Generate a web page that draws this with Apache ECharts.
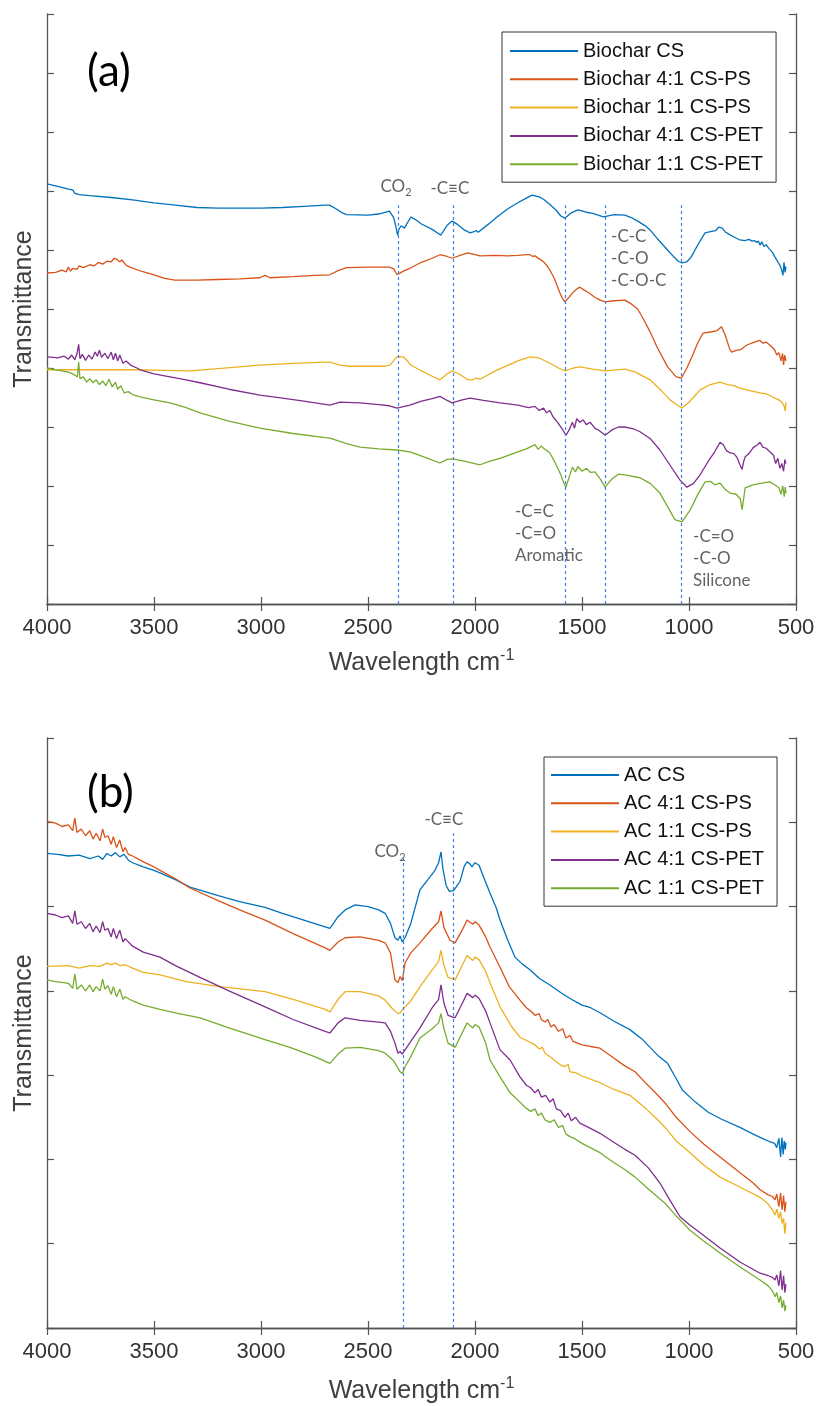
<!DOCTYPE html>
<html>
<head>
<meta charset="utf-8">
<script src="https://cdn.jsdelivr.net/npm/echarts@6/dist/echarts.min.js"></script>
<style>
  html, body { margin: 0; padding: 0; background: #fff; }
  #chart { width: 820px; height: 1406px; }
</style>
</head>
<body>
<div id="chart"></div>
<script>
// ---------- FTIR spectra: [wavenumber (cm-1), transmittance (a.u.)] ----------

// Panel (a): biochar samples
const biocharCS = [[4000,7.12],[3950,7.08],[3900,7.03],[3880,7.02],[3870,6.96],[3850,6.94],[3800,6.92],[3700,6.89],[3600,6.85],[3500,6.80],[3400,6.76],[3300,6.72],[3200,6.71],[3100,6.71],[3000,6.71],[2900,6.72],[2800,6.74],[2700,6.76],[2680,6.76],[2650,6.70],[2620,6.63],[2600,6.60],[2500,6.59],[2450,6.61],[2400,6.66],[2380,6.55],[2370,6.40],[2362,6.25],[2355,6.36],[2345,6.41],[2330,6.37],[2300,6.56],[2280,6.52],[2250,6.44],[2200,6.35],[2160,6.25],[2130,6.42],[2107,6.49],[2080,6.43],[2050,6.34],[2023,6.29],[2005,6.31],[1995,6.33],[1985,6.30],[1977,6.31],[1940,6.43],[1900,6.55],[1850,6.69],[1800,6.80],[1760,6.88],[1734,6.93],[1700,6.90],[1680,6.86],[1650,6.77],[1620,6.67],[1600,6.58],[1580,6.54],[1550,6.63],[1519,6.68],[1480,6.64],[1450,6.62],[1400,6.56],[1392,6.56],[1350,6.60],[1300,6.59],[1270,6.55],[1240,6.49],[1200,6.40],[1182,6.34],[1150,6.20],[1100,6.00],[1070,5.88],[1050,5.81],[1033,5.78],[1010,5.80],[990,5.88],[960,6.08],[940,6.20],[925,6.29],[900,6.31],[875,6.33],[860,6.39],[845,6.37],[832,6.31],[810,6.26],[790,6.22],[762,6.17],[740,6.16],[720,6.18],[705,6.15],[695,6.16],[685,6.13],[675,6.15],[668,6.08],[660,6.14],[650,6.06],[640,6.09],[625,6.02],[610,5.96],[598,5.88],[585,5.80],[575,5.74],[567,5.66],[561,5.57],[556,5.79],[551,5.62],[547,5.72]];

const biochar41PS = [[4000,5.61],[3960,5.62],[3930,5.66],[3910,5.63],[3900,5.71],[3890,5.64],[3880,5.69],[3860,5.67],[3850,5.73],[3830,5.70],[3800,5.75],[3780,5.73],[3760,5.79],[3740,5.76],[3720,5.81],[3700,5.80],[3685,5.86],[3673,5.84],[3660,5.80],[3650,5.83],[3630,5.74],[3612,5.71],[3560,5.64],[3500,5.58],[3450,5.52],[3402,5.49],[3300,5.49],[3200,5.50],[3100,5.51],[3005,5.53],[2981,5.57],[2958,5.53],[2850,5.55],[2750,5.57],[2678,5.58],[2640,5.65],[2600,5.70],[2500,5.71],[2400,5.71],[2380,5.68],[2364,5.58],[2345,5.62],[2330,5.65],[2304,5.69],[2257,5.78],[2200,5.86],[2164,5.92],[2155,5.95],[2130,5.89],[2107,5.86],[2070,5.91],[2033,5.95],[2000,5.92],[1977,5.90],[1900,5.91],[1850,5.90],[1800,5.91],[1760,5.92],[1743,5.92],[1730,5.89],[1720,5.90],[1700,5.85],[1680,5.80],[1665,5.74],[1650,5.66],[1630,5.52],[1603,5.27],[1590,5.17],[1580,5.12],[1560,5.20],[1540,5.29],[1520,5.35],[1510,5.37],[1490,5.32],[1470,5.28],[1440,5.20],[1415,5.15],[1392,5.12],[1350,5.14],[1300,5.15],[1276,5.10],[1240,5.00],[1210,4.81],[1180,4.60],[1150,4.36],[1100,4.02],[1060,3.85],[1035,3.83],[1010,4.00],[985,4.20],[960,4.42],[935,4.59],[900,4.61],[870,4.63],[848,4.70],[830,4.55],[810,4.32],[800,4.27],[780,4.30],[760,4.31],[730,4.39],[700,4.43],[670,4.47],[655,4.42],[640,4.44],[620,4.38],[600,4.31],[590,4.22],[580,4.26],[570,4.12],[563,4.25],[558,4.05],[553,4.22],[547,4.12]];

const biochar11PS = [[4000,3.97],[3800,3.97],[3600,3.97],[3450,3.96],[3330,3.95],[3200,3.99],[3005,4.05],[2850,4.08],[2700,4.10],[2678,4.10],[2630,4.05],[2584,4.03],[2420,4.03],[2397,4.05],[2375,4.15],[2364,4.19],[2336,4.19],[2320,4.14],[2300,4.05],[2250,3.95],[2200,3.86],[2164,3.80],[2130,3.90],[2107,3.95],[2070,3.89],[2033,3.80],[2010,3.80],[1995,3.83],[1977,3.81],[1900,3.96],[1800,4.12],[1743,4.19],[1700,4.17],[1650,4.08],[1610,4.00],[1580,3.95],[1540,4.00],[1510,4.02],[1450,3.98],[1392,3.95],[1300,3.98],[1250,3.93],[1182,3.80],[1130,3.62],[1089,3.46],[1050,3.36],[1033,3.32],[1000,3.42],[948,3.63],[900,3.72],[855,3.76],[820,3.72],[790,3.70],[762,3.66],[720,3.62],[668,3.58],[640,3.56],[620,3.53],[598,3.49],[580,3.46],[565,3.42],[555,3.35],[550,3.27],[547,3.42]];

const biochar41PET = [[4000,4.19],[3970,4.18],[3950,4.17],[3920,4.20],[3900,4.15],[3885,4.22],[3870,4.14],[3860,4.24],[3852,4.40],[3846,4.16],[3835,4.23],[3820,4.13],[3805,4.22],[3790,4.15],[3775,4.27],[3765,4.20],[3755,4.30],[3745,4.18],[3730,4.25],[3715,4.16],[3700,4.27],[3690,4.14],[3680,4.25],[3670,4.12],[3660,4.22],[3645,4.08],[3630,4.12],[3610,4.05],[3580,4.00],[3565,3.97],[3500,3.90],[3425,3.85],[3350,3.80],[3285,3.75],[3150,3.64],[3005,3.54],[2900,3.49],[2800,3.44],[2678,3.37],[2650,3.40],[2631,3.42],[2537,3.41],[2450,3.38],[2400,3.36],[2364,3.32],[2330,3.35],[2304,3.37],[2250,3.44],[2200,3.48],[2164,3.52],[2130,3.45],[2107,3.41],[2060,3.46],[2023,3.49],[1960,3.45],[1883,3.41],[1800,3.37],[1750,3.33],[1720,3.35],[1700,3.28],[1680,3.32],[1665,3.24],[1650,3.28],[1635,3.17],[1612,3.07],[1590,2.95],[1575,2.86],[1560,2.95],[1545,3.08],[1535,2.98],[1525,3.14],[1510,3.08],[1495,3.12],[1480,3.04],[1462,3.08],[1440,2.98],[1420,2.94],[1392,2.86],[1360,2.95],[1330,3.00],[1300,3.00],[1260,2.97],[1229,2.92],[1180,2.80],[1136,2.61],[1090,2.36],[1042,2.10],[1010,1.98],[980,2.04],[948,2.19],[910,2.42],[880,2.58],[855,2.74],[840,2.70],[825,2.60],[808,2.56],[790,2.55],[775,2.48],[762,2.36],[752,2.28],[744,2.42],[738,2.49],[720,2.55],[700,2.65],[680,2.70],[668,2.74],[655,2.66],[640,2.64],[622,2.58],[605,2.52],[595,2.38],[585,2.47],[575,2.30],[566,2.38],[558,2.25],[552,2.45],[547,2.38]];

const biochar11PET = [[4000,4.00],[3960,3.97],[3930,3.95],[3900,3.93],[3880,3.90],[3870,3.88],[3858,3.85],[3852,4.10],[3846,3.82],[3830,3.85],[3815,3.76],[3800,3.82],[3785,3.75],[3770,3.80],[3755,3.72],[3740,3.78],[3725,3.70],[3710,3.81],[3695,3.68],[3680,3.76],[3670,3.64],[3655,3.70],[3640,3.58],[3620,3.60],[3600,3.55],[3565,3.51],[3500,3.46],[3425,3.41],[3350,3.33],[3285,3.24],[3150,3.10],[3005,2.98],[2850,2.89],[2700,2.82],[2678,2.81],[2600,2.72],[2537,2.66],[2450,2.63],[2364,2.61],[2304,2.58],[2230,2.48],[2164,2.39],[2130,2.45],[2107,2.46],[2050,2.42],[1977,2.36],[1930,2.42],[1883,2.47],[1800,2.58],[1760,2.63],[1743,2.66],[1720,2.70],[1705,2.62],[1690,2.68],[1680,2.64],[1665,2.60],[1650,2.56],[1625,2.39],[1600,2.20],[1585,2.05],[1575,1.98],[1560,2.15],[1545,2.32],[1530,2.24],[1519,2.33],[1500,2.25],[1480,2.30],[1460,2.23],[1440,2.24],[1415,2.12],[1392,1.98],[1360,2.12],[1330,2.20],[1300,2.19],[1229,2.14],[1180,2.04],[1136,1.88],[1100,1.65],[1066,1.43],[1033,1.39],[995,1.59],[960,1.85],[925,2.07],[900,2.08],[880,2.02],[855,2.05],[830,1.94],[808,1.88],[780,1.86],[760,1.78],[752,1.60],[744,1.80],[738,1.97],[700,2.02],[660,2.05],[622,2.07],[600,2.02],[580,1.97],[570,1.86],[562,2.00],[555,1.82],[550,1.98],[547,1.88]];

// Panel (b): activated carbon samples
const acCS = [[4000,5.63],[3950,5.62],[3900,5.60],[3850,5.61],[3800,5.57],[3760,5.60],[3740,5.56],[3720,5.63],[3700,5.60],[3680,5.64],[3660,5.59],[3640,5.62],[3620,5.55],[3600,5.52],[3550,5.47],[3500,5.43],[3472,5.40],[3400,5.32],[3332,5.23],[3200,5.13],[3100,5.06],[2981,4.99],[2900,4.92],[2800,4.84],[2700,4.76],[2678,4.74],[2640,4.88],[2607,4.96],[2560,5.02],[2500,5.00],[2450,4.96],[2420,4.92],[2395,4.80],[2374,4.63],[2360,4.60],[2350,4.65],[2340,4.58],[2327,4.63],[2300,4.80],[2257,5.20],[2220,5.32],[2187,5.43],[2170,5.52],[2159,5.65],[2150,5.45],[2135,5.25],[2120,5.18],[2100,5.19],[2093,5.17],[2070,5.30],[2050,5.48],[2037,5.53],[2025,5.51],[2014,5.47],[2000,5.52],[1981,5.49],[1960,5.35],[1930,5.16],[1900,4.98],[1883,4.84],[1850,4.62],[1813,4.40],[1780,4.32],[1743,4.25],[1700,4.15],[1650,4.07],[1600,3.98],[1556,3.91],[1500,3.83],[1460,3.80],[1416,3.74],[1350,3.64],[1276,3.54],[1220,3.43],[1182,3.33],[1140,3.22],[1100,3.14],[1060,2.96],[1030,2.82],[970,2.68],[910,2.56],[850,2.48],[762,2.38],[700,2.30],[650,2.24],[622,2.21],[600,2.19],[590,2.14],[580,2.25],[572,2.03],[566,2.26],[560,2.06],[555,2.22],[550,2.12],[547,2.20]];

const ac41PS = [[4000,6.01],[3960,5.99],[3930,5.95],[3900,5.97],[3880,5.90],[3870,6.05],[3860,5.88],[3840,5.92],[3820,5.84],[3800,5.90],[3785,5.80],[3770,5.87],[3752,5.78],[3740,5.92],[3730,5.82],[3715,5.84],[3700,5.74],[3690,5.83],[3675,5.70],[3660,5.79],[3645,5.65],[3635,5.70],[3620,5.62],[3600,5.60],[3550,5.53],[3500,5.47],[3472,5.43],[3400,5.33],[3332,5.22],[3200,5.07],[3100,4.96],[2981,4.84],[2850,4.68],[2700,4.51],[2678,4.48],[2640,4.58],[2607,4.63],[2537,4.64],[2450,4.60],[2420,4.57],[2395,4.45],[2374,4.13],[2360,4.10],[2350,4.17],[2340,4.12],[2327,4.33],[2300,4.45],[2257,4.57],[2200,4.74],[2170,4.82],[2159,4.95],[2145,4.75],[2117,4.60],[2093,4.57],[2060,4.72],[2037,4.84],[2010,4.79],[2000,4.82],[1981,4.78],[1950,4.64],[1930,4.52],[1883,4.28],[1840,4.05],[1790,3.89],[1760,3.80],[1740,3.76],[1720,3.71],[1700,3.73],[1690,3.66],[1673,3.63],[1660,3.66],[1645,3.57],[1630,3.60],[1610,3.52],[1590,3.55],[1575,3.44],[1556,3.47],[1542,3.40],[1500,3.36],[1460,3.34],[1416,3.32],[1350,3.20],[1300,3.11],[1252,3.04],[1200,2.90],[1160,2.80],[1112,2.67],[1060,2.50],[995,2.33],[930,2.18],[855,2.03],[760,1.84],[700,1.72],[668,1.64],[630,1.58],[610,1.56],[598,1.52],[590,1.59],[580,1.44],[572,1.60],[565,1.40],[558,1.57],[552,1.38],[547,1.50]];

const ac11PS = [[4000,4.29],[3900,4.30],[3850,4.27],[3800,4.30],[3752,4.29],[3720,4.33],[3700,4.31],[3680,4.33],[3660,4.30],[3635,4.31],[3600,4.27],[3550,4.22],[3472,4.19],[3350,4.11],[3192,4.05],[2981,3.99],[2850,3.90],[2700,3.78],[2678,3.75],[2640,3.90],[2607,3.99],[2537,3.99],[2450,3.94],[2420,3.89],[2390,3.80],[2360,3.73],[2350,3.74],[2327,3.81],[2300,3.88],[2257,4.05],[2200,4.25],[2170,4.35],[2159,4.48],[2145,4.30],[2126,4.16],[2093,4.13],[2060,4.30],[2037,4.42],[2010,4.36],[2000,4.40],[1981,4.37],[1950,4.23],[1930,4.10],[1883,3.81],[1830,3.58],[1790,3.45],[1766,3.42],[1720,3.36],[1700,3.31],[1685,3.33],[1673,3.26],[1640,3.20],[1600,3.12],[1580,3.10],[1565,3.13],[1556,3.04],[1530,3.03],[1500,2.99],[1416,2.91],[1350,2.83],[1276,2.76],[1200,2.60],[1150,2.48],[1112,2.38],[1060,2.22],[995,2.08],[930,1.93],[855,1.79],[760,1.67],[668,1.55],[630,1.47],[610,1.40],[598,1.34],[590,1.41],[580,1.30],[572,1.38],[565,1.24],[558,1.30],[552,1.12],[547,1.25]];

const ac41PET = [[4000,4.92],[3960,4.90],[3930,4.87],[3900,4.89],[3880,4.80],[3870,4.95],[3860,4.79],[3840,4.82],[3820,4.74],[3800,4.80],[3785,4.70],[3770,4.77],[3752,4.69],[3740,4.82],[3730,4.72],[3715,4.74],[3700,4.64],[3690,4.74],[3675,4.62],[3660,4.72],[3645,4.58],[3635,4.62],[3600,4.53],[3550,4.46],[3472,4.40],[3400,4.30],[3285,4.16],[3150,4.00],[2981,3.81],[2850,3.66],[2700,3.52],[2678,3.50],[2640,3.62],[2607,3.68],[2537,3.65],[2450,3.63],[2420,3.62],[2395,3.52],[2374,3.38],[2360,3.26],[2350,3.28],[2340,3.25],[2327,3.30],[2300,3.40],[2257,3.56],[2200,3.80],[2170,3.90],[2159,4.07],[2145,3.85],[2126,3.71],[2093,3.68],[2060,3.85],[2037,3.97],[2010,3.92],[2000,3.95],[1981,3.91],[1950,3.76],[1930,3.62],[1883,3.30],[1836,3.18],[1790,2.98],[1760,2.88],[1740,2.85],[1720,2.79],[1705,2.83],[1690,2.74],[1670,2.76],[1650,2.68],[1635,2.72],[1620,2.60],[1600,2.58],[1580,2.50],[1565,2.55],[1550,2.46],[1530,2.50],[1510,2.43],[1470,2.38],[1416,2.31],[1350,2.20],[1300,2.12],[1252,2.05],[1190,1.90],[1136,1.72],[1090,1.52],[1042,1.32],[995,1.22],[948,1.13],[855,0.95],[760,0.78],[668,0.65],[630,0.62],[610,0.60],[598,0.57],[590,0.63],[580,0.50],[572,0.68],[565,0.45],[558,0.62],[552,0.42],[547,0.52]];

const ac11PET = [[4000,4.13],[3960,4.11],[3930,4.10],[3900,4.09],[3880,4.03],[3870,4.20],[3860,4.02],[3840,4.07],[3820,4.00],[3800,4.07],[3785,3.99],[3770,4.05],[3752,4.00],[3740,4.14],[3730,4.02],[3715,4.06],[3700,3.96],[3690,4.05],[3675,3.93],[3660,4.02],[3645,3.90],[3635,3.93],[3600,3.88],[3550,3.83],[3472,3.78],[3400,3.74],[3285,3.68],[3150,3.56],[2981,3.42],[2865,3.33],[2750,3.22],[2678,3.14],[2640,3.25],[2607,3.32],[2537,3.33],[2450,3.29],[2420,3.26],[2380,3.17],[2350,3.04],[2340,3.02],[2327,3.10],[2300,3.22],[2257,3.44],[2200,3.55],[2170,3.62],[2159,3.73],[2145,3.55],[2126,3.38],[2093,3.33],[2060,3.50],[2037,3.62],[2010,3.56],[2000,3.60],[1981,3.57],[1950,3.38],[1930,3.18],[1883,2.98],[1836,2.79],[1790,2.68],[1766,2.62],[1740,2.57],[1720,2.60],[1705,2.52],[1690,2.55],[1673,2.47],[1650,2.44],[1630,2.47],[1610,2.38],[1590,2.40],[1575,2.30],[1556,2.27],[1530,2.24],[1500,2.19],[1416,2.08],[1350,1.96],[1300,1.88],[1252,1.79],[1190,1.65],[1112,1.48],[1060,1.33],[995,1.16],[930,1.03],[855,0.89],[760,0.72],[668,0.57],[630,0.50],[610,0.44],[598,0.37],[590,0.42],[580,0.30],[572,0.38],[565,0.24],[558,0.33],[552,0.20],[547,0.27]];

// Series names
const namesA = ['Biochar CS', 'Biochar 4:1 CS-PS', 'Biochar 1:1 CS-PS', 'Biochar 4:1 CS-PET', 'Biochar 1:1 CS-PET'];
const namesB = ['AC CS', 'AC 4:1 CS-PS', 'AC 1:1 CS-PS', 'AC 4:1 CS-PET', 'AC 1:1 CS-PET'];
const spectraA = [biocharCS, biochar41PS, biochar11PS, biochar41PET, biochar11PET];
const spectraB = [acCS, ac41PS, ac11PS, ac41PET, ac11PET];

// Band positions: [wavenumber, upper end of the guide line]
const bandsA = [[2360, 6.76], [2100, 6.76], [1580, 6.76], [1390, 6.76], [1035, 6.76]];
const bandsB = [[2335, 5.59], [2100, 5.87]];

// Band assignments: text and anchor [wavenumber, transmittance]
const notesA = [
  { text: 'CO{sub|2}', at: [2369, 7.07], centered: true },
  { text: '-C≡C', at: [2117, 7.05], centered: true },
  { text: '-C-C\n-C-O\n-C-O-C', at: [1364, 5.85], centered: false },
  { text: '-C=C\n-C=O\nAromatic', at: [1813, 1.20], centered: false },
  { text: '-C=O\n-C-O\nSilicone', at: [981, 0.77], centered: false }
];
const notesB = [
  { text: 'CO{sub|2}', at: [2397, 5.65], centered: true },
  { text: '-C≡C', at: [2145, 6.03], centered: true }
];

const xTicks = { min: 500, max: 4000, interval: 500 };
const panelTags = ['(a)', '(b)'];

// ---------- styling ----------
const colors = ['#0072BD', '#D95319', '#EDB120', '#7E2F8E', '#77AC30'];
const axisColor = '#555555';
const tickFont = 'Liberation Sans, Arial, sans-serif';
const noteFont = 'Lato, "Open Sans", sans-serif';

const chart = echarts.init(document.getElementById('chart'), null, { renderer: 'canvas' });

const grids = [
  { left: 47, top: 14, width: 749, height: 590 },
  { left: 47, top: 738, width: 749, height: 590 }
];

function bottomX(gridIndex, nameGap) {
  return {
    type: 'value', gridIndex, inverse: true,
    min: xTicks.min, max: xTicks.max, interval: xTicks.interval,
    axisLine: { show: true, lineStyle: { color: axisColor, width: 1.3 } },
    axisTick: { show: true, inside: true, length: 7, lineStyle: { color: axisColor, width: 1.2 } },
    axisLabel: { color: '#333', fontSize: 22, margin: 13, fontFamily: tickFont, formatter: v => String(v) },
    splitLine: { show: false },
    name: '{n|Wavelength cm}{sup|-1}',
    nameLocation: 'middle',
    nameGap,
    nameTextStyle: {
      rich: {
        n: { fontSize: 25, lineHeight: 30, color: '#404040', fontFamily: tickFont },
        sup: { fontSize: 16, lineHeight: 16, verticalAlign: 'top', color: '#404040', fontFamily: tickFont }
      }
    }
  };
}
function topX(gridIndex) {
  return {
    type: 'value', gridIndex, inverse: true, position: 'top',
    min: xTicks.min, max: xTicks.max, interval: xTicks.interval,
    axisLine: { show: true, lineStyle: { color: axisColor, width: 1.3 } },
    axisTick: { show: true, inside: true, length: 7, lineStyle: { color: axisColor, width: 1.2 } },
    axisLabel: { show: false },
    splitLine: { show: false }
  };
}
function leftY(gridIndex, max) {
  return {
    type: 'value', gridIndex, min: 0, max, interval: 1,
    axisLine: { show: true, lineStyle: { color: axisColor, width: 1.3 } },
    axisTick: { show: true, inside: true, length: 7, lineStyle: { color: axisColor, width: 1.2 } },
    axisLabel: { show: false },
    splitLine: { show: false },
    name: 'Transmittance',
    nameLocation: 'middle',
    nameGap: 10,
    nameTextStyle: { fontSize: 25, color: '#404040', fontFamily: tickFont }
  };
}
function rightY(gridIndex, max) {
  return {
    type: 'value', gridIndex, min: 0, max, interval: 1, position: 'right',
    axisLine: { show: true, lineStyle: { color: axisColor, width: 1.3 } },
    axisTick: { show: true, inside: true, length: 7, lineStyle: { color: axisColor, width: 1.2 } },
    axisLabel: { show: false },
    splitLine: { show: false }
  };
}

function spectrumSeries(names, spectra, axisIndex) {
  return names.map((name, i) => ({
    name, type: 'line', xAxisIndex: axisIndex, yAxisIndex: axisIndex,
    data: spectra[i], showSymbol: false, symbol: 'none', smooth: false,
    lineStyle: { color: colors[i], width: 1.3 }, itemStyle: { color: colors[i] },
    z: 3, silent: true
  }));
}

function bandSeries(bands, axisIndex) {
  return {
    name: 'bands', type: 'line', xAxisIndex: axisIndex, yAxisIndex: axisIndex,
    data: [], silent: true, z: 2,
    markLine: {
      silent: true, symbol: 'none', animation: false,
      label: { show: false },
      lineStyle: { color: '#3f7ee0', width: 1.2, type: [3, 3] },
      data: bands.map(([w, top]) => [{ coord: [w, 0] }, { coord: [w, top] }])
    }
  };
}

function noteSeries(notes, axisIndex) {
  return {
    name: 'notes', type: 'scatter', xAxisIndex: axisIndex, yAxisIndex: axisIndex,
    symbolSize: 0, silent: true, z: 4,
    data: notes.map(n => ({
      value: n.at,
      label: {
        show: true,
        formatter: n.text,
        position: n.centered ? 'inside' : 'right',
        distance: 0,
        align: n.centered ? 'center' : 'left',
        color: '#3a3a3a',
        fontFamily: noteFont,
        fontSize: 17,
        lineHeight: 22,
        rich: { sub: { fontSize: 11, verticalAlign: 'bottom', lineHeight: 14, padding: [6, 0, 0, 0], color: '#3a3a3a', fontFamily: noteFont } }
      }
    }))
  };
}

function legendFor(names, left, top, padding) {
  return {
    data: names, orient: 'vertical', left, top,
    icon: 'rect', itemWidth: 68, itemHeight: 2, itemGap: 8.3,
    padding, borderColor: '#333', borderWidth: 1, backgroundColor: '#fff',
    textStyle: { fontSize: 20, lineHeight: 20, color: '#111', fontFamily: tickFont },
    selectedMode: false
  };
}

function panelTag(text, top) {
  return { text, left: 87, top, padding: 0, textStyle: { fontSize: 44, fontWeight: 'normal', color: '#000', fontFamily: noteFont } };
}

chart.setOption({
  animation: false,
  backgroundColor: '#fff',
  title: [panelTag(panelTags[0], 50), panelTag(panelTags[1], 771)],
  grid: grids,
  xAxis: [bottomX(0, 44), topX(0), bottomX(1, 48), topX(1)],
  yAxis: [leftY(0, 10), rightY(0, 10), leftY(1, 7), rightY(1, 7)],
  legend: [
    legendFor(namesA, 502, 32, [9, 13, 8, 8]),
    legendFor(namesB, 544, 757, [8, 13, 8, 7])
  ],
  series: [
    bandSeries(bandsA, 0),
    bandSeries(bandsB, 2),
    ...spectrumSeries(namesA, spectraA, 0),
    ...spectrumSeries(namesB, spectraB, 2),
    noteSeries(notesA, 0),
    noteSeries(notesB, 2)
  ]
});
</script>
</body>
</html>
